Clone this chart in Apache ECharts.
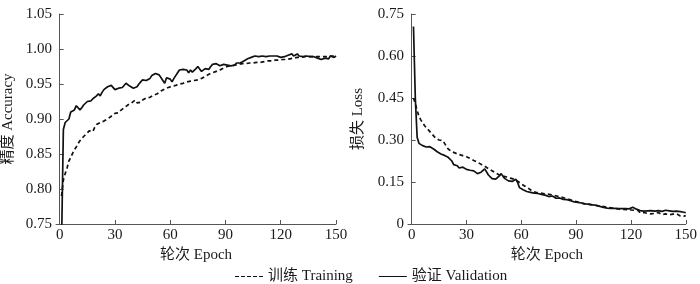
<!DOCTYPE html>
<html><head><meta charset="utf-8">
<script src="https://cdn.jsdelivr.net/npm/echarts@6/dist/echarts.min.js"></script>
<style>html,body{margin:0;padding:0;background:#fff}#c{width:700px;height:284px}</style>
</head><body><div id="c"></div>
<script>
const epochs = [1,2,3,4,5,6,7,8,9,10,11,12,13,14,15,16,17,18,19,20,21,22,23,24,25,26,27,28,29,30,
31,32,33,34,35,36,37,38,39,40,41,42,43,44,45,46,47,48,49,50,51,52,53,54,55,56,57,58,59,60,
61,62,63,64,65,66,67,68,69,70,71,72,73,74,75,76,77,78,79,80,81,82,83,84,85,86,87,88,89,90,
91,92,93,94,95,96,97,98,99,100,101,102,103,104,105,106,107,108,109,110,111,112,113,114,115,116,117,118,119,120,
121,122,123,124,125,126,127,128,129,130,131,132,133,134,135,136,137,138,139,140,141,142,143,144,145,146,147,148,149,150];
const xTicks = [0,30,60,90,120,150];
const accTicks = [0.75,0.80,0.85,0.90,0.95,1.00,1.05];
const lossTicks = [0,0.15,0.30,0.45,0.60,0.75];
const legendNames = ['训练 Training','验证 Validation'];
const trainAcc = [
0.790,0.813,0.822,0.830,0.840,0.845,0.851,0.856,0.860,0.865,
0.869,0.872,0.875,0.877,0.880,0.883,0.885,0.882,0.888,0.892,
0.891,0.895,0.894,0.897,0.899,0.900,0.901,0.904,0.906,0.908,
0.910,0.909,0.912,0.914,0.916,0.918,0.920,0.921,0.923,0.925,
0.927,0.923,0.921,0.924,0.927,0.929,0.930,0.932,0.931,0.929,
0.934,0.934,0.936,0.938,0.940,0.941,0.943,0.944,0.945,0.946,
0.947,0.948,0.948,0.949,0.950,0.951,0.951,0.952,0.953,0.953,
0.954,0.954,0.955,0.955,0.956,0.956,0.958,0.959,0.961,0.962,
0.964,0.965,0.966,0.967,0.968,0.969,0.970,0.972,0.973,0.975,
0.975,0.976,0.976,0.977,0.977,0.978,0.978,0.978,0.979,0.979,
0.979,0.980,0.980,0.980,0.980,0.981,0.981,0.982,0.981,0.982,
0.982,0.982,0.983,0.983,0.983,0.983,0.984,0.984,0.984,0.984,
0.985,0.985,0.985,0.986,0.986,0.987,0.987,0.987,0.988,0.988,
0.988,0.989,0.989,0.989,0.989,0.989,0.989,0.989,0.989,0.989,
0.989,0.989,0.989,0.989,0.989,0.989,0.990,0.990,0.990,0.990];
const valAcc = [
0.720,0.885,0.895,0.893,0.900,0.910,0.912,0.913,0.919,0.917,
0.913,0.916,0.920,0.921,0.925,0.927,0.926,0.929,0.928,0.933,
0.936,0.933,0.938,0.942,0.944,0.946,0.945,0.948,0.946,0.942,
0.940,0.944,0.946,0.945,0.947,0.951,0.949,0.947,0.945,0.944,
0.944,0.946,0.950,0.953,0.956,0.958,0.955,0.953,0.958,0.962,
0.964,0.965,0.964,0.963,0.962,0.955,0.951,0.959,0.958,0.957,
0.953,0.958,0.962,0.966,0.970,0.972,0.971,0.969,0.970,0.966,
0.970,0.967,0.968,0.972,0.975,0.974,0.968,0.970,0.972,0.974,
0.971,0.975,0.978,0.976,0.979,0.981,0.976,0.975,0.978,0.977,
0.977,0.977,0.976,0.978,0.977,0.980,0.979,0.980,0.982,0.983,
0.985,0.986,0.987,0.988,0.988,0.990,0.991,0.989,0.991,0.990,
0.990,0.989,0.991,0.990,0.991,0.990,0.991,0.990,0.990,0.988,
0.987,0.989,0.990,0.991,0.989,0.993,0.990,0.989,0.993,0.990,
0.990,0.989,0.989,0.990,0.989,0.989,0.988,0.989,0.988,0.987,
0.986,0.985,0.985,0.987,0.989,0.986,0.990,0.991,0.988,0.990];
const trainLoss = [
0.450,0.430,0.405,0.385,0.372,0.362,0.352,0.344,0.337,0.330,
0.322,0.315,0.308,0.303,0.300,0.304,0.298,0.288,0.278,0.268,
0.262,0.258,0.256,0.253,0.250,0.248,0.246,0.244,0.242,0.240,
0.237,0.234,0.230,0.227,0.224,0.221,0.217,0.213,0.210,0.206,
0.202,0.198,0.194,0.190,0.186,0.182,0.178,0.175,0.173,0.171,
0.170,0.168,0.166,0.164,0.162,0.160,0.157,0.153,0.148,0.143,
0.139,0.135,0.131,0.127,0.122,0.117,0.115,0.113,0.112,0.111,
0.110,0.109,0.108,0.107,0.107,0.105,0.103,0.102,0.100,0.099,
0.097,0.096,0.094,0.092,0.090,0.088,0.086,0.084,0.082,0.080,
0.078,0.076,0.074,0.073,0.072,0.071,0.070,0.069,0.068,0.067,
0.066,0.065,0.064,0.063,0.062,0.061,0.060,0.059,0.058,0.057,
0.056,0.055,0.054,0.053,0.053,0.052,0.051,0.051,0.050,0.050,
0.049,0.049,0.048,0.048,0.040,0.036,0.041,0.037,0.038,0.042,
0.036,0.040,0.038,0.035,0.041,0.037,0.034,0.040,0.036,0.039,
0.033,0.038,0.035,0.031,0.036,0.033,0.029,0.032,0.028,0.030];
const valLoss = [
0.705,0.450,0.310,0.288,0.283,0.280,0.281,0.275,0.282,0.276,
0.272,0.268,0.265,0.258,0.255,0.250,0.256,0.245,0.250,0.238,
0.232,0.225,0.212,0.205,0.208,0.200,0.198,0.203,0.200,0.195,
0.200,0.192,0.196,0.190,0.187,0.180,0.178,0.185,0.192,0.197,
0.190,0.175,0.168,0.162,0.158,0.160,0.165,0.172,0.180,0.170,
0.162,0.155,0.154,0.156,0.152,0.155,0.160,0.148,0.130,0.125,
0.122,0.118,0.116,0.115,0.113,0.112,0.110,0.108,0.109,0.107,
0.106,0.105,0.103,0.100,0.098,0.100,0.100,0.096,0.092,0.090,
0.093,0.090,0.088,0.085,0.087,0.085,0.083,0.080,0.079,0.078,
0.077,0.076,0.075,0.074,0.072,0.070,0.071,0.070,0.068,0.066,
0.067,0.065,0.063,0.061,0.059,0.058,0.057,0.058,0.056,0.057,
0.056,0.057,0.055,0.056,0.055,0.054,0.055,0.053,0.054,0.056,
0.060,0.057,0.053,0.050,0.048,0.047,0.046,0.046,0.047,0.046,
0.048,0.049,0.046,0.047,0.048,0.046,0.045,0.047,0.049,0.046,
0.047,0.044,0.045,0.048,0.046,0.043,0.044,0.045,0.042,0.040];

const FONT = '"Liberation Serif","Noto Sans CJK SC",serif';
const TXT = '#1a1a1a';
const AX = '#555';
const pair = arr => epochs.map((e,i)=>[e,arr[i]]);

function xAxisCfg(gi){
  return {
    type:'value', gridIndex:gi, min:-2, max:150,
    name:'轮次 Epoch', nameLocation:'middle', nameGap:22,
    nameTextStyle:{fontFamily:FONT,fontSize:15,color:TXT},
    axisLine:{show:true,lineStyle:{color:AX,width:1}},
    axisTick:{show:true,inside:true,length:4,customValues:xTicks,lineStyle:{color:AX}},
    axisLabel:{customValues:xTicks,fontFamily:FONT,fontSize:15,color:TXT,margin:4},
    splitLine:{show:false}
  };
}
function yAxisCfg(gi,name,ticks,fmt,gap){
  return {
    type:'value', gridIndex:gi, min:ticks[0], max:ticks[ticks.length-1],
    name:name, nameLocation:'middle', nameGap:gap,
    nameTextStyle:{fontFamily:FONT,fontSize:15,color:TXT},
    axisLine:{show:true,lineStyle:{color:AX,width:1}},
    axisTick:{show:true,inside:true,length:4,customValues:ticks,lineStyle:{color:AX}},
    axisLabel:{customValues:ticks,fontFamily:FONT,fontSize:15,color:TXT,margin:4,formatter:fmt},
    splitLine:{show:false}
  };
}
const dashed = {color:'#111',width:1.7,type:[4,3]};
const solid = {color:'#111',width:1.7,type:'solid'};
const dashIcon = 'path://M0,0h4v1h-4z M6,0h4v1h-4z M12,0h4v1h-4z M18,0h4v1h-4z M24,0h4v1h-4z';
const lineIcon = 'path://M0,0h28v1h-28z';

const chart = echarts.init(document.getElementById('c'),null,{renderer:'canvas'});
chart.setOption({
  animation:false,
  backgroundColor:'#fff',
  grid:[
    {left:56,top:14,width:280,height:210},
    {left:408,top:14,width:280,height:210}
  ],
  legend:{
    data:[{name:legendNames[0],icon:dashIcon},{name:legendNames[1],icon:lineIcon}],
    left:230, top:264, itemWidth:28, itemHeight:1.6, itemGap:26,
    itemStyle:{color:'#111',borderWidth:0},
    textStyle:{fontFamily:FONT,fontSize:15,color:TXT}
  },
  xAxis:[xAxisCfg(0),xAxisCfg(1)],
  yAxis:[
    yAxisCfg(0,'精度 Accuracy',accTicks,v=>v.toFixed(2),40),
    yAxisCfg(1,'损失 Loss',lossTicks,v=>v===0?'0':v.toFixed(2),42)
  ],
  series:[
    {name:legendNames[0],type:'line',xAxisIndex:0,yAxisIndex:0,data:pair(trainAcc),symbol:'none',lineStyle:dashed,itemStyle:{color:'#111'},clip:true},
    {name:legendNames[1],type:'line',xAxisIndex:0,yAxisIndex:0,data:pair(valAcc),symbol:'none',lineStyle:solid,itemStyle:{color:'#111'},clip:true},
    {name:legendNames[0],type:'line',xAxisIndex:1,yAxisIndex:1,data:pair(trainLoss),symbol:'none',lineStyle:dashed,itemStyle:{color:'#111'},clip:true},
    {name:legendNames[1],type:'line',xAxisIndex:1,yAxisIndex:1,data:pair(valLoss),symbol:'none',lineStyle:solid,itemStyle:{color:'#111'},clip:true}
  ]
});
</script></body></html>
